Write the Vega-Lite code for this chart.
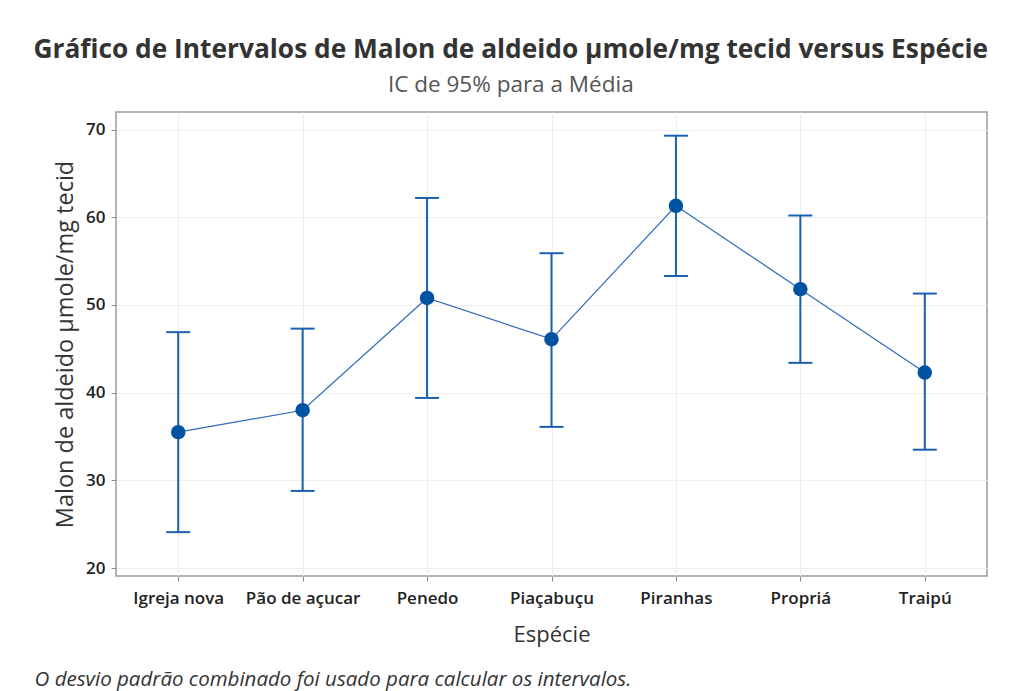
{
  "$schema": "https://vega.github.io/schema/vega-lite/v6.json",
  "background": "white",
  "padding": {"left": 33, "top": 37, "right": 20, "bottom": 0},
  "title": {
    "text": "Gráfico de Intervalos de Malon de aldeido µmole/mg tecid versus Espécie",
    "subtitle": "IC de 95% para a Média",
    "anchor": "middle",
    "font": "Open Sans",
    "fontSize": 26.3,
    "fontWeight": "bold",
    "color": "#333333",
    "subtitleFont": "Open Sans",
    "subtitleFontSize": 22.5,
    "subtitleColor": "#555555",
    "subtitlePadding": 10,
    "offset": 15
  },
  "config": {
    "view": {"stroke": "#9a9a9a", "strokeWidth": 1.5},
    "axis": {
      "domain": false,
      "grid": true,
      "gridColor": "#eeeeee",
      "gridWidth": 1,
      "tickColor": "#888888",
      "tickSize": 5,
      "labelFont": "Open Sans",
      "labelFontSize": 17,
      "labelFontWeight": 600,
      "labelColor": "#222222",
      "titleFont": "Open Sans",
      "titleFontSize": 22,
      "titleFontWeight": "normal",
      "titleColor": "#333333"
    }
  },
  "vconcat": [
    {
      "width": 871,
      "height": 464,
      "title": {
        "text": "O desvio padrão combinado foi usado para calcular os intervalos.",
        "orient": "bottom",
        "anchor": "start",
        "font": "Open Sans",
        "fontSize": 20.5,
        "fontStyle": "italic",
        "fontWeight": "normal",
        "color": "#333333",
        "offset": 25,
        "dx": -19
      },
      "data": {
        "values": [
          {"especie": "Igreja nova", "media": 35.5, "inferior": 24.1, "superior": 46.9},
          {"especie": "Pão de açucar", "media": 38.0, "inferior": 28.8, "superior": 47.3},
          {"especie": "Penedo", "media": 50.8, "inferior": 39.4, "superior": 62.2},
          {"especie": "Piaçabuçu", "media": 46.1, "inferior": 36.1, "superior": 55.9},
          {"especie": "Piranhas", "media": 61.3, "inferior": 53.3, "superior": 69.3},
          {"especie": "Propriá", "media": 51.8, "inferior": 43.4, "superior": 60.2},
          {"especie": "Traipú", "media": 42.3, "inferior": 33.5, "superior": 51.3}
        ]
      },
      "encoding": {
        "x": {
          "field": "especie",
          "type": "nominal",
          "sort": null,
          "scale": {"type": "point", "padding": 0.5},
          "axis": {"title": "Espécie", "labelAngle": 0, "labelPadding": 9, "titlePadding": 18}
        }
      },
      "layer": [
        {
          "mark": {"type": "line", "color": "#2d6cb8", "strokeWidth": 1.2},
          "encoding": {
            "y": {
              "field": "media",
              "type": "quantitative",
              "scale": {"domain": [19.1, 72], "nice": false, "zero": false},
              "axis": {"title": "Malon de aldeido µmole/mg tecid", "titleFontSize": 23.5, "values": [20, 30, 40, 50, 60, 70], "labelPadding": 6, "titlePadding": 8}
            }
          }
        },
        {
          "mark": {"type": "rule", "color": "#1b5fb0", "strokeWidth": 2},
          "encoding": {
            "y": {"field": "inferior", "type": "quantitative"},
            "y2": {"field": "superior"}
          }
        },
        {
          "mark": {"type": "tick", "color": "#1b5fb0", "size": 24, "thickness": 2, "opacity": 1},
          "encoding": {"y": {"field": "inferior", "type": "quantitative"}}
        },
        {
          "mark": {"type": "tick", "color": "#1b5fb0", "size": 24, "thickness": 2, "opacity": 1},
          "encoding": {"y": {"field": "superior", "type": "quantitative"}}
        },
        {
          "mark": {"type": "point", "shape": "circle", "filled": true, "size": 210, "color": "#0052a3", "opacity": 1},
          "encoding": {"y": {"field": "media", "type": "quantitative"}}
        }
      ]
    }
  ]
}
